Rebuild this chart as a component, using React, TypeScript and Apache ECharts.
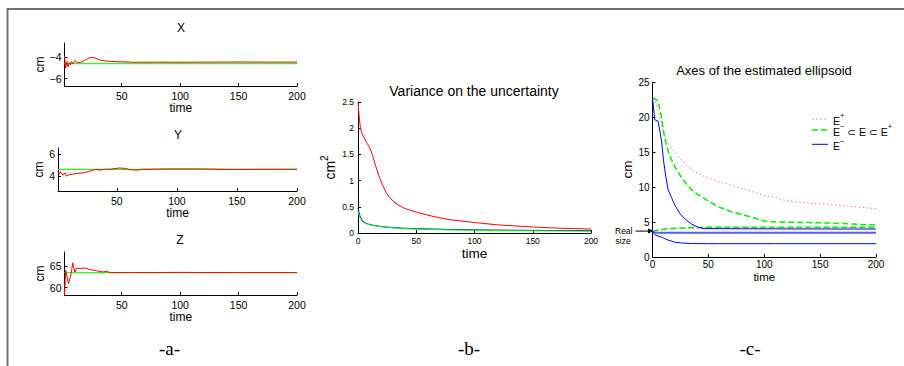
import React, { useEffect, useRef } from "react";
import * as echarts from "echarts";

// ---------- Panel a : X, Y, Z estimates (red) against the true value (green)
const aTimeTicks = [50, 100, 150, 200];

const xTime = [1, 2, 3, 4, 5, 6, 7, 8, 10, 12, 15, 18, 20, 23, 27, 31, 35, 40, 50, 60, 80, 100, 120, 150, 180, 200];
const xEstimate = [-3.9, -5.0, -4.4, -4.9, -4.5, -4.7, -4.4, -4.6, -4.3, -4.5, -4.45, -4.3, -4.2, -4.0, -4.05, -4.25, -4.32, -4.38, -4.42, -4.46, -4.45, -4.46, -4.45, -4.44, -4.45, -4.45];
const xTruthTime = [1, 200];
const xTruth = [-4.57, -4.57];
const xTicks = [-6, -4];

const yTime = [1, 2, 3, 5, 7, 8, 10, 13, 17, 22, 26, 30, 33, 36, 40, 45, 50, 52, 57, 61, 67, 72, 80, 92, 120, 148, 175, 200];
const yEstimate = [4.4, 4.18, 4.4, 4.09, 4.3, 4.0, 4.12, 4.18, 4.25, 4.3, 4.4, 4.55, 4.62, 4.55, 4.62, 4.63, 4.7, 4.74, 4.7, 4.58, 4.55, 4.62, 4.63, 4.65, 4.65, 4.6, 4.62, 4.62];
const yTruthTime = [1, 200];
const yTruth = [4.615, 4.615];
const yTicks = [4, 6];

const zTime = [1, 2, 4.4, 6.7, 8, 9.8, 11.6, 14.4, 18.7, 23, 28.7, 34.4, 37, 40, 60, 100, 150, 200];
const zEstimate = [58.4, 64.0, 60.9, 63.2, 65.7, 63.6, 64.5, 64.4, 64.5, 64.15, 63.85, 63.6, 63.77, 63.46, 63.47, 63.5, 63.45, 63.46];
const zTruthTime = [1, 200];
const zTruth = [63.46, 63.46];
const zTicks = [60, 65];

// ---------- Panel b : variance on the uncertainty
const bTime = [0, 1, 2, 3, 5, 7, 9.5, 11, 12.5, 15, 18, 21, 24, 27, 31, 35, 40, 44, 50, 60, 70, 80, 100, 120, 150, 175, 200];
const bRed = [2.5, 2.22, 2.02, 1.92, 1.83, 1.74, 1.65, 1.58, 1.48, 1.29, 1.09, 0.92, 0.78, 0.68, 0.59, 0.53, 0.47, 0.44, 0.4, 0.34, 0.29, 0.25, 0.2, 0.155, 0.115, 0.09, 0.075];
const bBlue = [0.48, 0.38, 0.31, 0.26, 0.21, 0.185, 0.165, 0.158, 0.15, 0.14, 0.13, 0.122, 0.115, 0.11, 0.103, 0.097, 0.09, 0.087, 0.083, 0.077, 0.072, 0.068, 0.06, 0.055, 0.05, 0.047, 0.045];
const bGreen = [0.42, 0.33, 0.28, 0.24, 0.2, 0.178, 0.16, 0.152, 0.145, 0.135, 0.125, 0.117, 0.11, 0.104, 0.097, 0.09, 0.084, 0.08, 0.075, 0.068, 0.063, 0.058, 0.052, 0.047, 0.042, 0.038, 0.035];

// ---------- Panel c : axes of the estimated ellipsoid
const cTime = [0, 2, 5, 8, 10, 12, 14, 17, 20, 25, 30, 35, 40, 45, 50, 60, 70, 80, 90, 100, 110, 120, 140, 160, 180, 200];
const ePlusMajor = [22.6, 22.3, 21.0, 19.0, 17.6, 16.8, 16.3, 15.6, 15.0, 14.0, 13.1, 12.5, 12.0, 11.6, 11.3, 10.7, 10.3, 9.8, 9.3, 8.8, 8.5, 8.0, 7.7, 7.5, 7.2, 6.9];
const ePlusMinor = [3.7, 3.72, 3.76, 3.82, 3.86, 3.9, 3.93, 3.97, 4.0, 4.03, 4.06, 4.08, 4.1, 4.11, 4.12, 4.13, 4.14, 4.15, 4.15, 4.16, 4.16, 4.16, 4.17, 4.17, 4.17, 4.17];
const eMidMajor = [22.7, 22.6, 22.3, 20.0, 17.8, 16.3, 15.1, 13.9, 12.9, 11.6, 10.5, 9.6, 9.0, 8.5, 8.0, 7.1, 6.5, 6.1, 5.6, 5.15, 5.0, 4.97, 4.92, 4.85, 4.7, 4.55];
const eMidMinor = [3.7, 3.75, 3.85, 3.92, 3.96, 4.0, 4.03, 4.07, 4.1, 4.15, 4.18, 4.2, 4.22, 4.23, 4.24, 4.25, 4.25, 4.25, 4.25, 4.25, 4.25, 4.25, 4.25, 4.25, 4.25, 4.25];
const eMinMajor = [22.7, 19.6, 19.4, 16.7, 13.6, 11.4, 9.6, 8.5, 7.4, 6.1, 5.3, 4.7, 4.3, 4.08, 4.05, 4.05, 4.04, 4.03, 4.03, 4.02, 4.02, 4.01, 4.01, 4.0, 4.0, 4.0];
const eMinMid = [3.7, 3.5, 3.46, 3.45, 3.45, 3.45, 3.45, 3.45, 3.45, 3.45, 3.45, 3.45, 3.45, 3.45, 3.45, 3.45, 3.45, 3.45, 3.45, 3.45, 3.45, 3.45, 3.45, 3.45, 3.45, 3.45];
const eMinMinor = [3.7, 3.2, 3.0, 2.85, 2.7, 2.55, 2.42, 2.27, 2.12, 2.02, 1.96, 1.93, 1.92, 1.91, 1.91, 1.9, 1.9, 1.9, 1.9, 1.9, 1.9, 1.9, 1.9, 1.9, 1.9, 1.9];
const realSize = 3.7;

const FONT = "'Liberation Sans', 'DejaVu Sans', Arial, sans-serif";
const SERIF = "'Liberation Serif', 'DejaVu Serif', serif";

const zip = (t: number[], v: number[]) => t.map((x, i) => [x, v[i]]);
const minus = (v: any) => String(v).replace("-", "\u2212");

export default function App() {
  const ref = useRef<HTMLDivElement>(null);

  useEffect(() => {
    const chart = echarts.init(ref.current!, null, { renderer: "svg" });
    const axisLine = { show: true, onZero: false, lineStyle: { color: "#000", width: 1 } };

    const smallX = (gi: number) => ({
      type: "value", gridIndex: gi, min: 1, max: 200,
      axisLine,
      axisTick: { show: true, inside: true, length: 3, customValues: aTimeTicks, lineStyle: { color: "#000" } },
      axisLabel: { customValues: aTimeTicks, fontSize: 10.5, color: "#000", margin: 4, fontFamily: FONT },
      splitLine: { show: false },
      name: "time", nameLocation: "middle", nameGap: 16,
      nameTextStyle: { fontSize: 12, color: "#000", fontFamily: FONT },
    });
    const smallY = (gi: number, min: number, max: number, ticks: number[], gap: number) => ({
      type: "value", gridIndex: gi, min, max,
      axisLine,
      axisTick: { show: true, inside: true, length: 3, customValues: ticks, lineStyle: { color: "#000" } },
      axisLabel: { customValues: ticks, fontSize: 10.5, color: "#000", margin: 3, fontFamily: FONT, formatter: minus },
      splitLine: { show: false },
      name: "cm", nameLocation: "middle", nameGap: gap, nameRotate: 90,
      nameTextStyle: { fontSize: 12, color: "#000", fontFamily: FONT },
    });
    const line = (xi: number, data: number[][], color: string, width = 1, type: any = "solid") => ({
      type: "line", xAxisIndex: xi, yAxisIndex: xi, data, showSymbol: false, symbol: "none",
      lineStyle: { color, width, type }, itemStyle: { color }, silent: true, clip: true,
    });

    const supRich = (size: number, sup: number) => ({
      b: { fontSize: size, lineHeight: size + 4, verticalAlign: "bottom", fontFamily: FONT, color: "#000" },
      s: { fontSize: sup, lineHeight: sup, verticalAlign: "top", fontFamily: FONT, color: "#000" },
    });

    const option: any = {
      animation: false,
      backgroundColor: "#fff",
      textStyle: { fontFamily: FONT },
      title: [
        { text: "X", left: 181, top: 28, textAlign: "center", textVerticalAlign: "middle", padding: 0, textStyle: { fontSize: 12, fontWeight: "normal", color: "#000", fontFamily: FONT } },
        { text: "Y", left: 178, top: 135, textAlign: "center", textVerticalAlign: "middle", padding: 0, textStyle: { fontSize: 12, fontWeight: "normal", color: "#000", fontFamily: FONT } },
        { text: "Z", left: 180, top: 239.5, textAlign: "center", textVerticalAlign: "middle", padding: 0, textStyle: { fontSize: 12, fontWeight: "normal", color: "#000", fontFamily: FONT } },
        { text: "Variance on the uncertainty", left: 474, top: 91, textAlign: "center", textVerticalAlign: "middle", padding: 0, textStyle: { fontSize: 14, fontWeight: "normal", color: "#000", fontFamily: FONT } },
        { text: "Axes of the estimated ellipsoid", left: 764, top: 70, textAlign: "center", textVerticalAlign: "middle", padding: 0, textStyle: { fontSize: 13, fontWeight: "normal", color: "#000", fontFamily: FONT } },
      ],
      grid: [
        { left: 64.5, top: 43, width: 232.5, height: 43 },
        { left: 58, top: 148, width: 239, height: 43 },
        { left: 64.5, top: 252, width: 232.5, height: 43 },
        { left: 358, top: 102, width: 233, height: 131 },
        { left: 652.5, top: 82, width: 223.5, height: 175 },
      ],
      xAxis: [
        smallX(0), smallX(1), smallX(2),
        {
          type: "value", gridIndex: 3, min: 0, max: 200, interval: 50,
          axisLine,
          axisTick: { show: true, inside: true, length: 3, lineStyle: { color: "#000" } },
          axisLabel: { fontSize: 8.5, color: "#000", margin: 3, fontFamily: FONT },
          splitLine: { show: false },
          name: "time", nameLocation: "middle", nameGap: 13,
          nameTextStyle: { fontSize: 13.5, color: "#000", fontFamily: FONT },
        },
        {
          type: "value", gridIndex: 4, min: 0, max: 200, interval: 50,
          axisLine,
          axisTick: { show: true, inside: true, length: 3, lineStyle: { color: "#000" } },
          axisLabel: { fontSize: 10, color: "#000", margin: 2, fontFamily: FONT },
          splitLine: { show: false },
          name: "time", nameLocation: "middle", nameGap: 14,
          nameTextStyle: { fontSize: 11.5, color: "#000", fontFamily: FONT },
        },
      ],
      yAxis: [
        smallY(0, -6.7, -2.65, xTicks, 19),
        smallY(1, 2.65, 6.55, yTicks, 13),
        smallY(2, 58.3, 68.2, zTicks, 19),
        {
          type: "value", gridIndex: 3, min: 0, max: 2.5, interval: 0.5,
          axisLine,
          axisTick: { show: true, inside: true, length: 3, lineStyle: { color: "#000" } },
          axisLabel: { fontSize: 8.5, color: "#000", margin: 4, fontFamily: FONT },
          splitLine: { show: false },
          name: "{b|cm}{s|2}", nameLocation: "middle", nameGap: 21, nameRotate: 90,
          nameTextStyle: { rich: supRich(14, 10) },
        },
        {
          type: "value", gridIndex: 4, min: 0, max: 25, interval: 5,
          axisLine,
          axisTick: { show: true, inside: true, length: 3, lineStyle: { color: "#000" } },
          axisLabel: { fontSize: 10, color: "#000", margin: 3, fontFamily: FONT },
          splitLine: { show: false },
          name: "cm", nameLocation: "middle", nameGap: 12, nameRotate: 90,
          nameTextStyle: { fontSize: 13.5, color: "#000", fontFamily: FONT },
        },
      ],
      series: [
        line(0, zip(xTruthTime, xTruth), "#3cf03c", 1.5),
        line(0, zip(xTime, xEstimate), "#ff0000", 1),
        line(1, zip(yTruthTime, yTruth), "#22ff22", 1.2),
        line(1, zip(yTime, yEstimate), "#ff0000", 1),
        line(2, zip(zTruthTime, zTruth), "#22ff22", 1.2),
        line(2, zip(zTime, zEstimate), "#ff0000", 1),
        line(3, zip(bTime, bRed), "#ff0000", 1),
        line(3, zip(bTime, bBlue), "#0000ff", 1),
        line(3, zip(bTime, bGreen), "#00ff00", 1),
        line(4, zip(cTime, ePlusMajor), "#ff7f7f", 1, [1.5, 2.5]),
        line(4, zip(cTime, ePlusMinor), "#ff7f7f", 1, [1.5, 2.5]),
        line(4, zip(cTime, eMidMajor), "#00ee00", 1.5, [6, 3]),
        line(4, zip(cTime, eMidMinor), "#00ee00", 1.5, [6, 3]),
        line(4, zip(cTime, eMinMajor), "#0000ff", 1),
        line(4, zip(cTime, eMinMid), "#5a5aff", 2),
        line(4, zip(cTime, eMinMinor), "#0000ff", 1),
      ],
    };
    chart.setOption(option);

    const p = chart.convertToPixel({ xAxisIndex: 4, yAxisIndex: 4 }, [0, realSize]) as number[];
    const legendRows = [119, 130, 144.3];
    const lx0 = 812, lx1 = 828, tx = 833;
    const rich = supRich(10.5, 7.5);
    const graphic: any[] = [
      { type: "polyline", shape: { points: [[7.5, 366], [7.5, 9], [904, 9]] }, style: { stroke: "#707070", lineWidth: 2, fill: null }, silent: true },
      { type: "text", x: 169.5, y: 348, style: { text: "-a-", font: `19px ${SERIF}`, fill: "#000", align: "center", verticalAlign: "middle" } },
      { type: "text", x: 469, y: 348, style: { text: "-b-", font: `19px ${SERIF}`, fill: "#000", align: "center", verticalAlign: "middle" } },
      { type: "text", x: 750, y: 348, style: { text: "-c-", font: `19px ${SERIF}`, fill: "#000", align: "center", verticalAlign: "middle" } },
      // legend of panel c
      { type: "line", shape: { x1: lx0, y1: legendRows[0], x2: lx1, y2: legendRows[0] }, style: { stroke: "#ff7f7f", lineWidth: 1, lineDash: [1.5, 2.5] } },
      { type: "line", shape: { x1: lx0, y1: legendRows[1], x2: lx1, y2: legendRows[1] }, style: { stroke: "#00ee00", lineWidth: 1.5, lineDash: [6, 3] } },
      { type: "line", shape: { x1: lx0, y1: legendRows[2], x2: lx1, y2: legendRows[2] }, style: { stroke: "#0000ff", lineWidth: 1 } },
      { type: "text", x: tx, y: legendRows[0], style: { text: "{b|E}{s|+}", rich, align: "left", verticalAlign: "middle" } },
      { type: "text", x: tx, y: legendRows[1], style: { text: "{b|E}{s|\u2212}{b| \u2282 E \u2282 E}{s|+}", rich, align: "left", verticalAlign: "middle" } },
      { type: "text", x: tx, y: legendRows[2], style: { text: "{b|E}{s|\u2212}", rich, align: "left", verticalAlign: "middle" } },
      // "Real size" annotation
      { type: "text", x: p[0] - 37.5, y: p[1], style: { text: "Real", font: `8.5px ${FONT}`, fill: "#000", align: "left", verticalAlign: "middle" } },
      { type: "text", x: p[0] - 37, y: p[1] + 9.5, style: { text: "size", font: `8.5px ${FONT}`, fill: "#000", align: "left", verticalAlign: "middle" } },
      { type: "line", shape: { x1: p[0] - 17, y1: p[1], x2: p[0] - 4, y2: p[1] }, style: { stroke: "#000", lineWidth: 1 } },
      { type: "polygon", shape: { points: [[p[0] - 4.5, p[1] - 2.5], [p[0] + 1, p[1]], [p[0] - 4.5, p[1] + 2.5]] }, style: { fill: "#000" } },
    ];
    chart.setOption({ graphic: { elements: graphic } });

    return () => chart.dispose();
  }, []);

  return (
    <div
      ref={ref}
      style={{ position: "fixed", left: 0, top: 0, width: 904, height: 366, background: "#fff" }}
    />
  );
}
